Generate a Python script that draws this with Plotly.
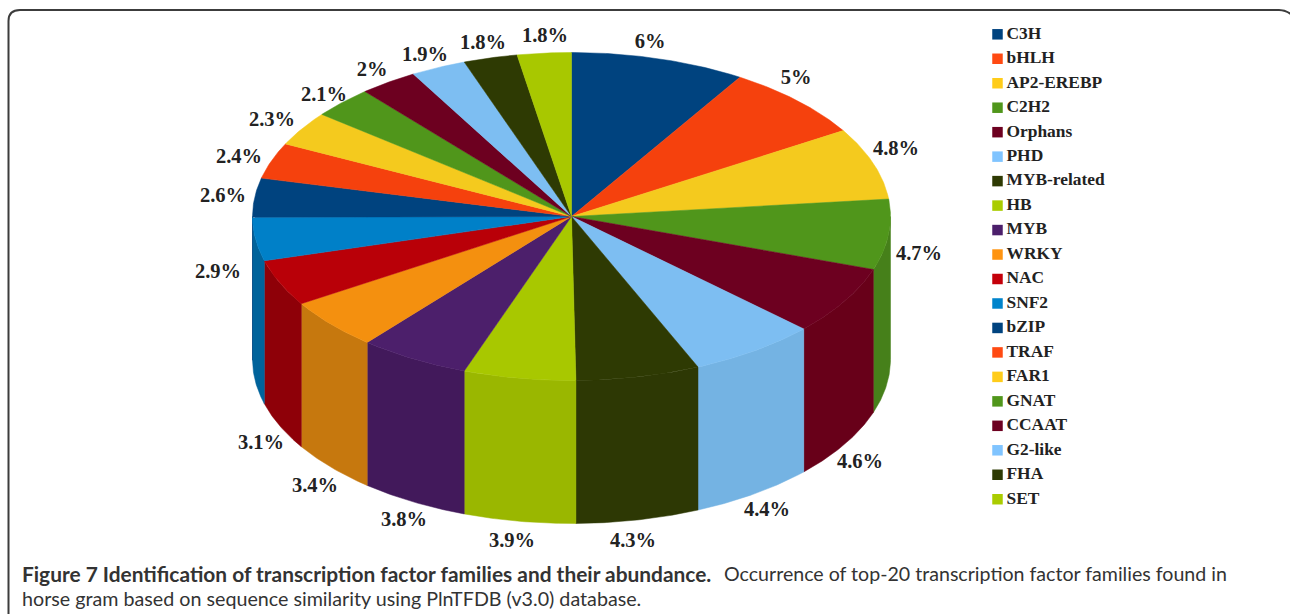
import math
import plotly.graph_objects as go

families = ["C3H", "bHLH", "AP2-EREBP", "C2H2", "Orphans", "PHD", "MYB-related", "HB", "MYB", "WRKY",
            "NAC", "SNF2", "bZIP", "TRAF", "FAR1", "GNAT", "CCAAT", "G2-like", "FHA", "SET"]
# printed labels
percent = [6, 5, 4.8, 4.7, 4.6, 4.4, 4.3, 3.9, 3.8, 3.4,
           3.1, 2.9, 2.6, 2.4, 2.3, 2.1, 2, 1.9, 1.8, 1.8]
# the same shares, to one more digit than the labels print
shares = [6, 5, 4.8, 4.7, 4.6, 4.4, 4.25, 3.85, 3.8, 3.4,
          3.1, 2.9, 2.6, 2.4, 2.3, 2.1, 2, 1.9, 1.85, 1.85]
top_colors = ["#00437f", "#f5410d", "#f4ca1e", "#50961b", "#6d0020", "#7dbef2", "#2e3a03", "#a8c800", "#4c1f6b", "#f4900f",
              "#b90008", "#0080c8", "#00437f", "#f5410d", "#f4ca1e", "#50961b", "#6d0020", "#7dbef2", "#2e3a03", "#a8c800"]
side_colors = ["#00437f", "#f5410d", "#f4ca1e", "#46801a", "#680019", "#74b3e3", "#2d3804", "#9ab700", "#42195b", "#c6780e",
               "#8e0008", "#00639b", "#00437f", "#f5410d", "#f4ca1e", "#46801a", "#680019", "#74b3e3", "#2d3804", "#9ab700"]
legend_colors = ["#00437f", "#ff4a12", "#ffcc1a", "#50961b", "#6d0020", "#80c4ff", "#2e3a03", "#aacc00", "#4c1f6b", "#ff9410",
                 "#c4000a", "#0084cc", "#00437f", "#ff4a12", "#ffcc1a", "#50961b", "#6d0020", "#80c4ff", "#2e3a03", "#aacc00"]

# layout of the drawing, in pixels
CX, CY, RX, RY, DEPTH = 571.5, 216.5, 319, 164, 143
label_x = [650, 796, 896, 919, 860, 767, 633, 512, 404, 315, 261, 218, 223, 239, 272, 324, 372, 425, 483, 545]
label_y = [43, 79, 150, 255, 463, 511, 542, 542, 521, 487, 444, 273, 197, 158, 121, 96, 71, 56, 44, 37]
LEG_X, LEG_TEXT_X, LEG_Y0, LEG_STEP = 997.5, 1006.5, 34.3, 24.47

SERIF = "Liberation Serif"
SANS = "Lato"


def pt(t, dy=0.0):
    return CX + RX * math.sin(t), CY - RY * math.cos(t) + dy


def arc(a, b, dy=0.0):
    n = max(2, int(abs(b - a) / math.radians(0.5)))
    return [pt(a + (b - a) * i / n, dy) for i in range(n + 1)]


total = sum(shares)
edges = [0.0]
for p in shares:
    edges.append(edges[-1] + p / total * 2 * math.pi)

fig = go.Figure()

# walls (only the front half of the cylinder is visible)
for name, a, b, col in zip(families, edges[:-1], edges[1:], side_colors):
    lo, hi = max(a, math.pi / 2), min(b, 3 * math.pi / 2)
    if hi <= lo:
        continue
    pts = arc(lo, hi) + arc(hi, lo, DEPTH)
    fig.add_trace(go.Scatter(x=[p[0] for p in pts] + [pts[0][0]], y=[p[1] for p in pts] + [pts[0][1]],
                             mode="lines", fill="toself", fillcolor=col, line=dict(color=col, width=0.5),
                             name=name, hoverinfo="skip", showlegend=False))

# top face
for name, val, a, b, col in zip(families, percent, edges[:-1], edges[1:], top_colors):
    pts = [(CX, CY)] + arc(a, b) + [(CX, CY)]
    fig.add_trace(go.Scatter(x=[p[0] for p in pts], y=[p[1] for p in pts],
                             mode="lines", fill="toself", fillcolor=col, line=dict(color=col, width=0.5),
                             name=name, text=f"{name}: {val}%", hoverinfo="text", showlegend=False))

# value labels
fig.add_trace(go.Scatter(x=label_x, y=label_y, mode="text", text=[f"{p}%" for p in percent],
                         textposition="middle center", hoverinfo="skip", showlegend=False,
                         textfont=dict(family=SERIF, size=20.5, color="#222222", weight="bold")))

# key
key_y = [LEG_Y0 + LEG_STEP * i for i in range(len(families))]
fig.add_trace(go.Scatter(x=[LEG_X] * len(families), y=key_y, mode="markers",
                         marker=dict(symbol="square", size=10.5, color=legend_colors, line=dict(width=0)),
                         hoverinfo="skip", showlegend=False))
fig.add_trace(go.Scatter(x=[LEG_TEXT_X] * len(families), y=key_y, mode="text", text=families,
                         textposition="middle right", hoverinfo="skip", showlegend=False,
                         textfont=dict(family=SERIF, size=17.4, color="#222222", weight="bold")))

# frame
fig.add_shape(type="path", xref="x", yref="y",
              path="M 8.5 640 L 8.5 21 Q 8.5 10 20 10 L 1279 10 Q 1286 10 1292 15",
              line=dict(color="#3c3c3c", width=2))


def caption(x, y, text, size):
    fig.add_annotation(xref="x", yref="y", x=x, y=y, xanchor="left", yanchor="middle", showarrow=False,
                       align="left", text=text, font=dict(family=SANS, size=size, color="#333333"))


caption(20, 573, "<b>Figure 7 Identification of transcription factor families and their abundance.</b>", 20.9)
caption(722, 573, "Occurrence of top-20 transcription factor families found in", 19.6)
caption(20, 598, "horse gram based on sequence similarity using PlnTFDB (v3.0) database.", 19.7)

fig.update_layout(width=1290, height=614, margin=dict(l=0, r=0, t=0, b=0), showlegend=False,
                  paper_bgcolor="white", plot_bgcolor="white",
                  xaxis=dict(range=[0, 1290], visible=False, fixedrange=True),
                  yaxis=dict(range=[614, 0], visible=False, fixedrange=True))
fig.write_html("out.html", post_script="document.body.style.margin='0';", config={"displayModeBar": False})
